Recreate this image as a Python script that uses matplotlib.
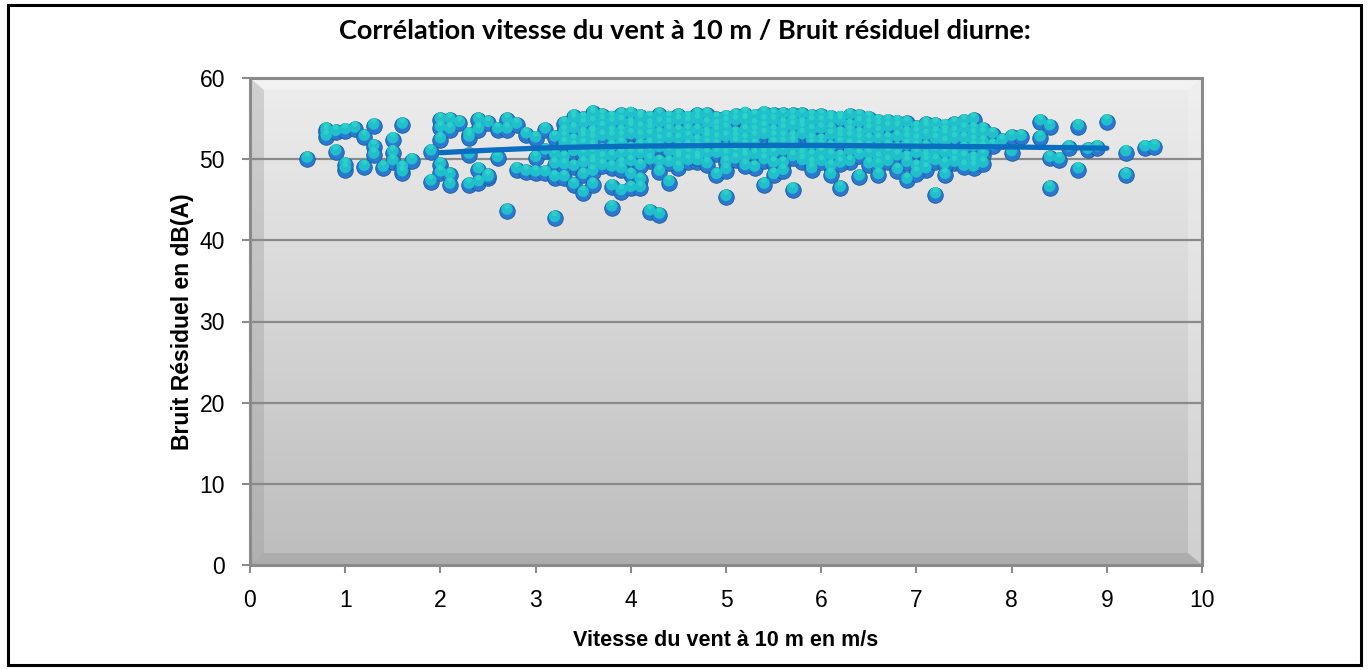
import numpy as np
import matplotlib
matplotlib.use("Agg")
import matplotlib.pyplot as plt
from matplotlib.path import Path
from matplotlib.markers import MarkerStyle
from matplotlib.patches import Rectangle, Polygon

# ---------------- data ----------------
title = "Corrélation vitesse du vent à 10 m / Bruit résiduel diurne:"
x_label = "Vitesse du vent à 10 m en m/s"
y_label = "Bruit Résiduel en dB(A)"
x_ticks = [0, 1, 2, 3, 4, 5, 6, 7, 8, 9, 10]
y_ticks = [0, 10, 20, 30, 40, 50, 60]

wind_speed = (
    [0.6] + [0.8]*3 + [0.9]*2 + [1.0]*3 + [1.1] + [1.2]*2 + [1.3]*3 + [1.4] + [1.5]*3 +
    [1.6]*3 + [1.7] + [1.9]*2 + [2.0]*5 + [2.1]*4 + [2.2] + [2.3]*4 + [2.4]*4 + [2.5]*3 +
    [2.6]*2 + [2.7]*3 + [2.8]*2 + [2.9]*2 + [3.0]*3 + [3.1]*3 + [3.2]*5 + [3.3]*4 +
    [3.4]*5 + [3.5]*6 + [3.6]*9 + [3.7]*4 + [3.8]*6 + [3.9]*6 + [4.0]*6 + [4.1]*6 +
    [4.2]*5 + [4.3]*5 + [4.4]*4 + [4.5]*5 + [4.6]*4 + [4.7]*5 + [4.8]*4 + [4.9]*4 +
    [5.0]*6 + [5.1]*4 + [5.2]*6 + [5.3]*4 + [5.4]*5 + [5.5]*5 + [5.6]*5 + [5.7]*5 +
    [5.8]*4 + [5.9]*5 + [6.0]*4 + [6.1]*5 + [6.2]*5 + [6.3]*4 + [6.4]*4 + [6.5]*4 +
    [6.6]*5 + [6.7]*3 + [6.8]*3 + [6.9]*4 + [7.0]*4 + [7.1]*4 + [7.2]*3 + [7.3]*4 +
    [7.4]*3 + [7.5]*3 + [7.6]*5 + [7.7]*3 + [7.8]*2 + [7.9] + [8.0]*2 + [8.1] + [8.3]*2 +
    [8.4]*3 + [8.5] + [8.6] + [8.7]*2 + [8.8] + [8.9] + [9.0] + [9.2]*2 + [9.4] + [9.5]
)

noise_level = [
    50.0,
    53.6, 52.7, 53.3,
    53.3, 50.9,
    53.5, 48.7, 49.3,
    53.7,
    52.7, 49.0,
    54.1, 51.5, 50.5,
    48.9,
    52.4, 50.8, 49.7,
    54.2, 48.3, 48.9,
    49.8,
    50.9, 47.2,
    54.8, 52.4, 49.3, 48.3, 53.8,
    54.8, 46.8, 48.0, 53.6,
    54.4,
    53.0, 50.5, 46.8, 52.6,
    54.8, 53.6, 48.7, 47.1,
    54.4, 47.7, 47.9,
    53.6, 50.1,
    54.8, 53.6, 43.6,
    54.2, 48.7,
    53.0, 48.4,
    50.1, 48.3, 52.5,
    53.6, 48.3, 51.0,
    52.6, 49.3, 47.7, 42.7, 50.5,
    53.3, 50.1, 47.7, 51.8,
    54.8, 46.8, 52.2, 50.8, 49.0,
    54.2, 50.5, 48.0, 45.8, 53.0, 51.7,
    55.7, 53.2, 49.3, 46.8, 55.4, 53.0, 49.7, 51.5, 52.3,
    54.6, 51.0, 50.0, 53.8,
    52.6, 48.9, 46.6, 44.0, 54.3, 51.4,
    55.4, 53.3, 49.3, 46.0, 51.8, 50.5,
    54.2, 48.0, 46.4, 52.9, 51.2, 49.6,
    54.8, 52.7, 47.4, 46.4, 50.5, 53.7,
    51.7, 43.5, 54.1, 52.8, 49.8,
    55.4, 53.0, 48.4, 43.1, 51.3,
    54.2, 47.1, 50.8, 52.4,
    53.3, 48.9, 51.2, 54.6, 50.3,
    54.4, 52.6, 49.7, 51.5,
    55.4, 49.7, 53.4, 52.1, 50.9,
    54.2, 50.5, 53.0, 51.7,
    48.0, 54.9, 52.4, 50.6,
    54.4, 52.6, 49.5, 45.3, 51.2, 53.6,
    54.6, 53.1, 50.8, 51.9,
    54.6, 50.5, 54.8, 50.1, 52.3, 53.4,
    48.9, 54.1, 51.6, 50.4,
    54.6, 46.8, 52.9, 51.1, 49.8,
    55.4, 48.0, 53.3, 51.8, 50.6,
    55.4, 52.6, 54.2, 50.9, 49.4,
    55.4, 52.6, 46.2, 53.9, 51.3,
    54.2, 49.7, 52.9, 51.0,
    55.2, 49.3, 53.4, 51.6, 50.3,
    53.6, 52.2, 50.7, 54.5,
    53.6, 49.0, 48.0, 51.4, 52.8,
    54.6, 46.4, 50.2, 53.1, 51.8,
    52.6, 54.0, 50.9, 49.6,
    55.2, 53.0, 47.8, 51.5,
    54.2, 50.5, 52.3, 53.5,
    54.6, 48.0, 53.2, 51.1, 50.0,
    53.8, 52.4, 50.7,
    53.8, 51.2, 52.6,
    50.1, 47.4, 53.1, 51.6,
    53.8, 49.0, 52.2, 50.6,
    53.8, 48.7, 51.4, 52.8,
    45.6, 53.1, 50.8,
    54.0, 48.0, 51.9, 52.9,
    49.5, 53.2, 51.0,
    53.6, 50.1, 52.4,
    54.8, 48.9, 52.9, 51.4, 50.0,
    53.0, 50.5, 52.0,
    53.0, 51.6,
    52.2,
    52.7, 50.8,
    52.7,
    54.6, 52.6,
    50.1, 46.4, 54.0,
    49.9,
    51.4,
    54.0, 48.7,
    51.1,
    51.4,
    54.6,
    50.8, 48.0,
    51.4,
    51.5,
]

# extra points of the dense band (3 per 0.1 m/s column from 3.3 to 7.7 m/s)
dense_speed = [
    3.3, 3.3, 3.3, 3.4, 3.4, 3.4, 3.5, 3.5, 3.5, 3.6, 3.6, 3.6, 3.7, 3.7, 3.7,
    3.8, 3.8, 3.8, 3.9, 3.9, 3.9, 4.0, 4.0, 4.0, 4.1, 4.1, 4.1, 4.2, 4.2, 4.2,
    4.3, 4.3, 4.3, 4.4, 4.4, 4.4, 4.5, 4.5, 4.5, 4.6, 4.6, 4.6, 4.7, 4.7, 4.7,
    4.8, 4.8, 4.8, 4.9, 4.9, 4.9, 5.0, 5.0, 5.0, 5.1, 5.1, 5.1, 5.2, 5.2, 5.2,
    5.3, 5.3, 5.3, 5.4, 5.4, 5.4, 5.5, 5.5, 5.5, 5.6, 5.6, 5.6, 5.7, 5.7, 5.7,
    5.8, 5.8, 5.8, 5.9, 5.9, 5.9, 6.0, 6.0, 6.0, 6.1, 6.1, 6.1, 6.2, 6.2, 6.2,
    6.3, 6.3, 6.3, 6.4, 6.4, 6.4, 6.5, 6.5, 6.5, 6.6, 6.6, 6.6, 6.7, 6.7, 6.7,
    6.8, 6.8, 6.8, 6.9, 6.9, 6.9, 7.0, 7.0, 7.0, 7.1, 7.1, 7.1, 7.2, 7.2, 7.2,
    7.3, 7.3, 7.3, 7.4, 7.4, 7.4, 7.5, 7.5, 7.5, 7.6, 7.6, 7.6, 7.7, 7.7, 7.7,
]
dense_noise = [
    54.3, 52.6, 49.2, 53.6, 51.4, 55.2, 54.9, 52.5, 49.4, 54.4, 50.6, 48.4, 55.3, 52.7, 49.1,
    55.0, 53.2, 50.2, 54.5, 52.6, 48.7, 55.5, 53.8, 50.5, 55.2, 51.6, 49.1, 55.0, 53.5, 50.8,
    54.3, 52.2, 49.6, 55.0, 53.4, 49.5, 55.3, 52.3, 49.9, 55.0, 53.4, 50.6, 54.7, 51.4, 50.1,
    55.4, 52.5, 49.3, 54.0, 53.3, 51.5, 55.1, 50.4, 48.6, 55.3, 52.5, 49.9, 55.5, 51.5, 49.1,
    55.2, 53.3, 52.6, 55.6, 53.8, 50.5, 54.6, 52.6, 49.4, 53.5, 51.8, 48.5, 54.6, 52.0, 50.2,
    55.4, 53.7, 50.4, 54.5, 52.3, 48.7, 55.3, 51.5, 49.6, 54.6, 50.3, 55.1, 55.0, 52.5, 49.4,
    55.3, 53.3, 51.6, 54.4, 52.3, 50.4, 55.0, 51.3, 49.3, 54.0, 52.3, 49.2, 54.6, 51.5, 49.6,
    54.5, 50.3, 48.6, 54.4, 52.4, 49.5, 53.1, 51.4, 48.2, 54.3, 50.2, 49.6, 54.2, 52.3, 49.7,
    53.3, 50.6, 49.3, 54.3, 52.4, 50.3, 54.6, 51.2, 49.0, 53.6, 52.1, 49.5, 53.6, 51.3, 49.4,
]

trend_x = [2.0, 2.5, 3.0, 3.5, 4.0, 5.0, 6.0, 7.0, 8.0, 9.0]
trend_y = [50.8, 51.1, 51.35, 51.5, 51.6, 51.7, 51.7, 51.6, 51.5, 51.35]

all_speed = wind_speed + dense_speed
all_noise = noise_level + dense_noise

# ---------------- figure ----------------
W, H = 1369, 670
fig = plt.figure(figsize=(W / 100, H / 100), dpi=100)

L, R, B, T = 250, 1202, 565, 78
ax = fig.add_axes([L / W, 1 - B / H, (R - L) / W, (B - T) / H])
ax.set_xlim(0, 10)
ax.set_ylim(0, 60)

# background gradient
grad = np.linspace(0, 1, 256).reshape(-1, 1)
top_c = np.array([0.93, 0.93, 0.93])
bot_c = np.array([0.74, 0.74, 0.74])
img = top_c * (1 - grad[..., None]) + bot_c * grad[..., None]
img = np.repeat(img, 2, axis=1)
ax.imshow(img, extent=[0, 1, 0, 1], transform=ax.transAxes, aspect="auto",
          zorder=0, interpolation="bicubic")

# bevel
pw, ph = R - L, B - T
bx, by = 14 / pw, 12 / ph
bev = [
    ([(0, 0), (bx, by), (bx, 1 - by), (0, 1)], "#9a9a9a", 0.35),   # left
    ([(0, 1), (bx, 1 - by), (1 - bx, 1 - by), (1, 1)], "#f8f8f8", 0.5),  # top
    ([(1, 1), (1 - bx, 1 - by), (1 - bx, by), (1, 0)], "#f4f4f4", 0.35),  # right
    ([(0, 0), (bx, by), (1 - bx, by), (1, 0)], "#909090", 0.35),   # bottom
]
for pts, col, a in bev:
    ax.add_patch(Polygon(pts, closed=True, transform=ax.transAxes, facecolor=col,
                         edgecolor="none", alpha=a, zorder=0.5))

# grid
for yv in y_ticks[1:]:
    ax.axhline(yv, color="#8a8a8a", lw=1.6, zorder=1)

for s in ax.spines.values():
    s.set_color("#8a8a8a")
    s.set_linewidth(2.2)

# sphere-like markers
theta = np.linspace(0, 2 * np.pi, 60)
cap_r, cap_c = 0.74, 0.26
cap = Path(np.column_stack([cap_r * np.cos(theta), cap_c + cap_r * np.sin(theta)]), closed=True)
hl_r, hl_c = 0.35, 0.65
hl = Path(np.column_stack([hl_r * np.cos(theta), hl_c + hl_r * np.sin(theta)]), closed=True)

ms = 125
ax.scatter(all_speed, all_noise, s=ms, marker="o", color="#2a78d2",
           edgecolors="#1b5d96", linewidths=0.6, zorder=3)
ax.scatter(all_speed, all_noise, s=ms, marker=MarkerStyle(cap), color="#1fbfcc",
           edgecolors="none", zorder=3)
ax.scatter(all_speed, all_noise, s=ms, marker=MarkerStyle(hl), color="#2fd6c6",
           edgecolors="none", zorder=3, alpha=0.8)

ax.plot(trend_x, trend_y, color="#0b6dc0", lw=3.8, solid_capstyle="round", zorder=4)

ax.set_xticks(x_ticks)
ax.set_yticks(y_ticks)
ax.tick_params(axis="both", colors="#8a8a8a", length=6, width=1.5, labelcolor="black",
               labelsize=16.5)
ax.tick_params(axis="y", pad=12)
ax.tick_params(axis="x", pad=11)
for lab in ax.get_xticklabels() + ax.get_yticklabels():
    lab.set_family("Liberation Sans")

ax.set_xlabel(x_label, fontsize=15.5, fontweight="bold", family="Liberation Sans", labelpad=13)
ax.set_ylabel(y_label, fontsize=16.5, fontweight="bold", family="Liberation Sans", labelpad=4)

fig.text(0.5, 1 - 31 / H, title, ha="center", va="center", fontsize=19.5,
         fontweight="bold", family="Lato")

fig.patches.append(Rectangle((8 / W, 5 / H), 1 - 16 / W, 1 - 10 / H, transform=fig.transFigure,
                             fill=False, edgecolor="black", lw=2.2))

fig.savefig("out.png", dpi=100)
